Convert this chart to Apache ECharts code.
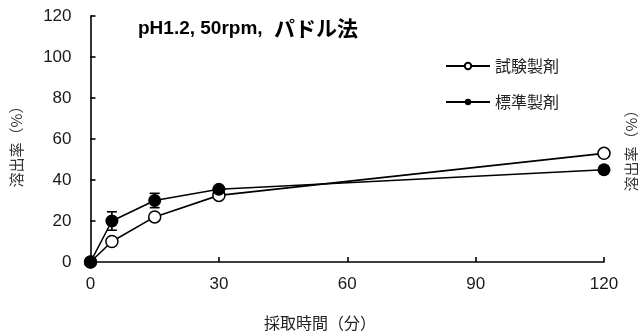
<!DOCTYPE html>
<html>
<head>
<meta charset="utf-8">
<script src="https://cdn.jsdelivr.net/npm/echarts@6/dist/echarts.min.js"></script>
<style>
html,body{margin:0;padding:0;background:#fff;}
#chart{width:638px;height:336px;}
</style>
</head>
<body>
<div id="chart"></div>
<script>
var times = [0, 5, 15, 30, 120];
var testValues = [0, 10, 22, 32.5, 53];
var refValues = [0, 20, 30, 35.5, 45];
var refErrors = [0, 4.5, 3.5, 1.5, 1.5];
var seriesNames = ['試験製剤', '標準製剤'];
var titleParts = ['pH1.2, 50rpm, ', 'パドル法'];
var yAxisName = '溶出率（%）';
var xAxisName = '採取時間（分）';

var FONT = '"Liberation Sans", Arial, "Noto Sans CJK JP", sans-serif';
var CJK = '"Noto Sans CJK JP", sans-serif';
var chart = echarts.init(document.getElementById('chart'));

function pairs(xs, ys) { return xs.map(function (x, i) { return [x, ys[i]]; }); }
var errData = times.map(function (t, i) { return [t, refValues[i] - refErrors[i], refValues[i] + refErrors[i]]; });

chart.setOption({
  animation: false,
  backgroundColor: '#fff',
  textStyle: { fontFamily: FONT },
  title: {
    text: '{a|' + titleParts[0] + '}{b|' + titleParts[1] + '}', left: 133, top: 13,
    textStyle: {
      rich: {
        a: { fontFamily: FONT, fontSize: 19, fontWeight: 'bold', color: '#000' },
        b: { fontFamily: CJK, fontSize: 21, fontWeight: 'bold', color: '#000', padding: [0, 0, 0, 6] }
      }
    }
  },
  grid: { left: 90.5, right: 34, top: 16, bottom: 74, containLabel: false },
  legend: {
    data: seriesNames, orient: 'vertical', left: 440, top: 53,
    itemWidth: 44, itemHeight: 8, itemGap: 20,
    textStyle: { fontFamily: CJK, fontSize: 16, color: '#222' }
  },
  xAxis: {
    type: 'value', min: 0, max: 120, interval: 30,
    axisLine: { lineStyle: { color: '#000', width: 1.6 } },
    axisTick: { inside: true, length: 5, lineStyle: { color: '#000', width: 1.6 } },
    axisLabel: { fontFamily: FONT, fontSize: 17, color: '#1a1a1a', margin: 14 },
    splitLine: { show: false }
  },
  yAxis: {
    type: 'value', min: 0, max: 120, interval: 20,
    axisLine: { show: true, lineStyle: { color: '#000', width: 1.6 } },
    axisTick: { show: true, inside: true, length: 5, lineStyle: { color: '#000', width: 1.6 } },
    axisLabel: { fontFamily: FONT, fontSize: 17, color: '#1a1a1a', margin: 19 },
    splitLine: { show: false }
  },
  graphic: [
    { type: 'text', x: 16, y: 143, rotation: Math.PI / 2,
      style: { text: yAxisName, fontFamily: CJK, fontSize: 15, fill: '#333', textAlign: 'center', textVerticalAlign: 'middle' } },
    { type: 'text', x: 631, y: 147, rotation: Math.PI / 2,
      style: { text: yAxisName, fontFamily: CJK, fontSize: 15, fill: '#333', textAlign: 'center', textVerticalAlign: 'middle' } },
    { type: 'text', x: 320, y: 323,
      style: { text: xAxisName, fontFamily: CJK, fontSize: 16, fill: '#222', textAlign: 'center', textVerticalAlign: 'middle' } }
  ],
  series: [
    {
      type: 'custom', name: 'err', silent: true, z: 1,
      data: errData,
      renderItem: function (params, api) {
        var x = api.value(0);
        var lo = api.coord([x, api.value(1)]);
        var hi = api.coord([x, api.value(2)]);
        var w = 5;
        var ls = { stroke: '#000', lineWidth: 1.6 };
        return { type: 'group', children: [
          { type: 'line', shape: { x1: lo[0], y1: lo[1], x2: hi[0], y2: hi[1] }, style: ls },
          { type: 'line', shape: { x1: lo[0] - w, y1: lo[1], x2: lo[0] + w, y2: lo[1] }, style: ls },
          { type: 'line', shape: { x1: hi[0] - w, y1: hi[1], x2: hi[0] + w, y2: hi[1] }, style: ls }
        ] };
      }
    },
    {
      name: seriesNames[0], type: 'line', z: 2,
      data: pairs(times, testValues),
      symbol: 'circle', symbolSize: 12, showAllSymbol: true,
      lineStyle: { color: '#000', width: 1.6 },
      itemStyle: { color: '#fff', borderColor: '#000', borderWidth: 1.5 }
    },
    {
      name: seriesNames[1], type: 'line', z: 3,
      data: pairs(times, refValues),
      symbol: 'circle', symbolSize: 13, showAllSymbol: true,
      lineStyle: { color: '#000', width: 1.6 },
      itemStyle: { color: '#000', borderColor: '#000', borderWidth: 0 }
    }
  ]
});
</script>
</body>
</html>
